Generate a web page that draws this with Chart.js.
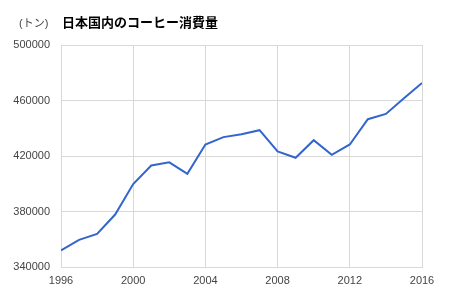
<!DOCTYPE html>
<html>
<head>
<meta charset="utf-8">
<script src="https://cdn.jsdelivr.net/npm/chart.js@4"></script>
<style>
  html, body { margin: 0; padding: 0; background: #fff; }
  #wrap { position: relative; width: 454px; height: 301px; }
  #unit { position: absolute; left: 19px; top: 14px; font: 11px "Liberation Sans", "Noto Sans CJK JP", sans-serif; color: #444; }
  #title { position: absolute; left: 62px; top: 12px; font: bold 13px "Noto Sans CJK JP", sans-serif; color: #000; }
</style>
</head>
<body>
<div id="wrap">
  <div id="unit">(トン)</div>
  <div id="title">日本国内のコーヒー消費量</div>
  <canvas id="chart" width="454" height="301"></canvas>
</div>
<script>
// ===== Data =====
const years = [1996, 1997, 1998, 1999, 2000, 2001, 2002, 2003, 2004, 2005, 2006,
               2007, 2008, 2009, 2010, 2011, 2012, 2013, 2014, 2015, 2016];
const consumption = [352000, 359600, 363900, 377800, 399800, 413200, 415400, 407200, 428300, 433600, 435700,
                     438600, 423300, 418700, 431400, 420900, 428300, 446500, 450300, 461600, 472600];
const xTicks = [1996, 2000, 2004, 2008, 2012, 2016];
const yTicks = [340000, 380000, 420000, 460000, 500000];

const gridColor = "#d9d9d9";
const tickFont = { family: "'Liberation Sans', Arial, sans-serif", size: 11 };

const ctx = document.getElementById("chart").getContext("2d");
new Chart(ctx, {
  type: 'line',
  data: {
    datasets: [{
      data: years.map((y, i) => ({ x: y, y: consumption[i] })),
      borderColor: "#3366cc",
      borderWidth: 2,
      pointRadius: 0,
      tension: 0,
      fill: false
    }]
  },
  options: {
    responsive: false,
    animation: false,
    layout: { padding: { left: 0, right: 32, top: 45, bottom: 13 } },
    plugins: { legend: { display: false }, tooltip: { enabled: false } },
    scales: {
      x: {
        type: 'linear',
        min: xTicks[0],
        max: xTicks[xTicks.length - 1],
        afterBuildTicks: axis => { axis.ticks = xTicks.map(v => ({ value: v })); },
        afterFit: axis => { axis.height = 21; },
        grid: { color: gridColor, drawTicks: false },
        border: { color: gridColor },
        ticks: { padding: 7, color: "#444", font: tickFont, maxRotation: 0, callback: v => String(v) }
      },
      y: {
        min: yTicks[0],
        max: yTicks[yTicks.length - 1],
        afterBuildTicks: axis => { axis.ticks = yTicks.map(v => ({ value: v })); },
        afterFit: axis => { axis.width = 61; },
        grid: { color: gridColor, drawTicks: false },
        border: { color: gridColor },
        ticks: { padding: 11, color: "#444", font: tickFont, callback: v => String(v) }
      }
    }
  }
});
</script>
</body>
</html>
